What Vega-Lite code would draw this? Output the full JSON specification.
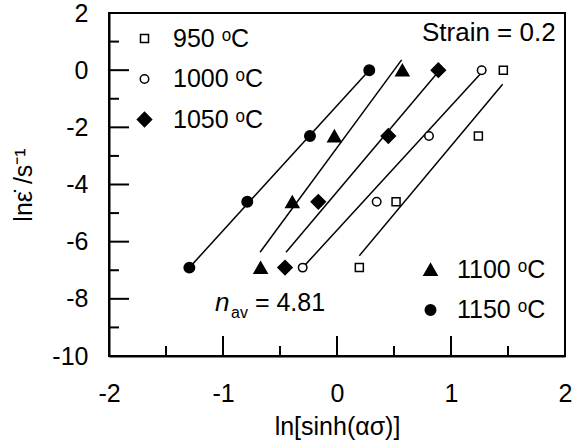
{
  "$schema": "https://vega.github.io/schema/vega-lite/v6.json",
  "width": 456,
  "height": 343,
  "autosize": {"type": "none"},
  "padding": {"left": 109, "top": 13, "right": 8, "bottom": 89},
  "background": "white",
  "config": {
    "font": "Liberation Sans",
    "view": {"stroke": "black", "strokeWidth": 2},
    "axis": {
      "domainColor": "black",
      "domainWidth": 2,
      "ticks": false,
      "labelColor": "black",
      "labelFont": "Liberation Sans",
      "labelFontSize": 25,
      "titleFont": "Liberation Sans",
      "titleFontSize": 25,
      "titleFontWeight": "normal",
      "titleColor": "black",
      "grid": false
    },
    "legend": {
      "title": null,
      "padding": 0,
      "labelFontSize": 25,
      "labelFont": "Liberation Sans",
      "labelColor": "black",
      "symbolStrokeWidth": 1.5
    },
    "tick": {"thickness": 2, "color": "black", "opacity": 1}
  },
  "datasets": {
    "pts": [
      {"T": "950 ᵒC", "x": 0.196, "y": -6.908},
      {"T": "950 ᵒC", "x": 0.518, "y": -4.605},
      {"T": "950 ᵒC", "x": 1.24, "y": -2.303},
      {"T": "950 ᵒC", "x": 1.459, "y": 0},
      {"T": "1000 ᵒC", "x": -0.301, "y": -6.908},
      {"T": "1000 ᵒC", "x": 0.348, "y": -4.605},
      {"T": "1000 ᵒC", "x": 0.807, "y": -2.303},
      {"T": "1000 ᵒC", "x": 1.269, "y": 0},
      {"T": "1050 ᵒC", "x": -0.456, "y": -6.908},
      {"T": "1050 ᵒC", "x": -0.164, "y": -4.605},
      {"T": "1050 ᵒC", "x": 0.45, "y": -2.303},
      {"T": "1050 ᵒC", "x": 0.889, "y": 0},
      {"T": "1100 ᵒC", "x": -0.67, "y": -6.908},
      {"T": "1100 ᵒC", "x": -0.392, "y": -4.605},
      {"T": "1100 ᵒC", "x": -0.023, "y": -2.303},
      {"T": "1100 ᵒC", "x": 0.573, "y": 0},
      {"T": "1150 ᵒC", "x": -1.295, "y": -6.908},
      {"T": "1150 ᵒC", "x": -0.787, "y": -4.605},
      {"T": "1150 ᵒC", "x": -0.237, "y": -2.303},
      {"T": "1150 ᵒC", "x": 0.283, "y": 0}
    ],
    "fits": [
      {"T": "950", "x": 0.196, "y": -6.49},
      {"T": "950", "x": 1.453, "y": -0.49},
      {"T": "1000", "x": -0.301, "y": -6.908},
      {"T": "1000", "x": 1.265, "y": -0.1},
      {"T": "1050", "x": -0.447, "y": -6.37},
      {"T": "1050", "x": 0.88, "y": -0.1},
      {"T": "1100", "x": -0.675, "y": -6.37},
      {"T": "1100", "x": 0.567, "y": 0.36},
      {"T": "1150", "x": -1.295, "y": -6.908},
      {"T": "1150", "x": 0.283, "y": 0}
    ],
    "xticks": [
      {"x": -1, "y": -10, "kind": "major"},
      {"x": 0, "y": -10, "kind": "major"},
      {"x": 1, "y": -10, "kind": "major"},
      {"x": -1.5, "y": -10, "kind": "minor"},
      {"x": -0.5, "y": -10, "kind": "minor"},
      {"x": 0.5, "y": -10, "kind": "minor"},
      {"x": 1.5, "y": -10, "kind": "minor"}
    ],
    "yticks": [
      {"x": -2, "y": -8, "kind": "major"},
      {"x": -2, "y": -6, "kind": "major"},
      {"x": -2, "y": -4, "kind": "major"},
      {"x": -2, "y": -2, "kind": "major"},
      {"x": -2, "y": 0, "kind": "major"},
      {"x": -2, "y": -9, "kind": "minor"},
      {"x": -2, "y": -7, "kind": "minor"},
      {"x": -2, "y": -5, "kind": "minor"},
      {"x": -2, "y": -3, "kind": "minor"},
      {"x": -2, "y": -1, "kind": "minor"},
      {"x": -2, "y": 1, "kind": "minor"}
    ],
    "notes": [
      {"k": "strain", "x": 1.918, "y": 1.02, "text": "Strain = 0.2"},
      {"k": "n", "x": -1.07, "y": -8.43, "text": "n"},
      {"k": "av", "x": -0.93, "y": -8.67, "text": "av"},
      {"k": "eq", "x": -0.72, "y": -8.43, "text": "= 4.81"}
    ]
  },
  "layer": [
    {
      "data": {"name": "fits"},
      "mark": {"type": "line", "color": "black", "strokeWidth": 1.5},
      "encoding": {
        "x": {
          "field": "x", "type": "quantitative",
          "scale": {"domain": [-2, 2], "nice": false, "zero": false},
          "title": "ln[sinh(ασ)]",
          "axis": {
            "orient": "bottom",
            "values": [-2, -1, 0, 1, 2],
            "labelExpr": "'' + datum.value",
            "labelPadding": 25,
            "labelFlush": false,
            "labelOverlap": false,
            "titlePadding": 8
          }
        },
        "y": {
          "field": "y", "type": "quantitative",
          "scale": {"domain": [-10, 2], "nice": false, "zero": false},
          "title": "lnε̇ /s⁻¹",
          "axis": {
            "orient": "left",
            "values": [-10, -8, -6, -4, -2, 0, 2],
            "labelExpr": "'' + datum.value",
            "labelPadding": 21,
            "labelFlush": false,
            "labelOverlap": false,
            "titlePadding": 15
          }
        },
        "detail": {"field": "T", "type": "nominal"}
      }
    },
    {
      "data": {"name": "xticks"},
      "transform": [{"filter": "datum.kind === 'major'"}],
      "mark": {"type": "tick", "orient": "vertical", "size": 20, "yOffset": -10},
      "encoding": {
        "x": {"field": "x", "type": "quantitative", "axis": null},
        "y": {"field": "y", "type": "quantitative", "axis": null}
      }
    },
    {
      "data": {"name": "xticks"},
      "transform": [{"filter": "datum.kind === 'minor'"}],
      "mark": {"type": "tick", "orient": "vertical", "size": 10, "yOffset": -5},
      "encoding": {
        "x": {"field": "x", "type": "quantitative", "axis": null},
        "y": {"field": "y", "type": "quantitative", "axis": null}
      }
    },
    {
      "data": {"name": "yticks"},
      "transform": [{"filter": "datum.kind === 'major'"}],
      "mark": {"type": "tick", "orient": "horizontal", "size": 20, "xOffset": 10},
      "encoding": {
        "x": {"field": "x", "type": "quantitative", "axis": null},
        "y": {"field": "y", "type": "quantitative", "axis": null}
      }
    },
    {
      "data": {"name": "yticks"},
      "transform": [{"filter": "datum.kind === 'minor'"}],
      "mark": {"type": "tick", "orient": "horizontal", "size": 10, "xOffset": 5},
      "encoding": {
        "x": {"field": "x", "type": "quantitative", "axis": null},
        "y": {"field": "y", "type": "quantitative", "axis": null}
      }
    },
    {
      "data": {"name": "pts"},
      "transform": [{"filter": "indexof(['950 ᵒC','1000 ᵒC','1050 ᵒC'], datum.T) >= 0"}],
      "mark": {"type": "point", "filled": true, "strokeWidth": 1.5, "opacity": 1},
      "encoding": {
        "x": {"field": "x", "type": "quantitative", "axis": null},
        "y": {"field": "y", "type": "quantitative", "axis": null},
        "shape": {
          "field": "T", "type": "nominal",
          "scale": {"domain": ["950 ᵒC", "1000 ᵒC", "1050 ᵒC"], "range": ["square", "circle", "diamond"]},
          "legend": {"orient": "none", "legendX": 23, "legendY": 13, "labelOffset": 16, "rowPadding": 14.5}
        },
        "fill": {
          "field": "T", "type": "nominal",
          "scale": {"domain": ["950 ᵒC", "1000 ᵒC", "1050 ᵒC"], "range": ["white", "white", "black"]},
          "legend": {"orient": "none", "legendX": 23, "legendY": 13, "labelOffset": 16, "rowPadding": 14.5}
        },
        "stroke": {
          "field": "T", "type": "nominal",
          "scale": {"domain": ["950 ᵒC", "1000 ᵒC", "1050 ᵒC"], "range": ["black", "black", "black"]},
          "legend": {"orient": "none", "legendX": 23, "legendY": 13, "labelOffset": 16, "rowPadding": 14.5}
        },
        "size": {
          "field": "T", "type": "ordinal",
          "scale": {"type": "ordinal", "domain": ["950 ᵒC", "1000 ᵒC", "1050 ᵒC"], "range": [64, 72, 200]},
          "legend": {"orient": "none", "legendX": 23, "legendY": 13, "labelOffset": 16, "rowPadding": 14.5}
        }
      }
    },
    {
      "data": {"name": "pts"},
      "transform": [{"filter": "indexof(['1100 ᵒC','1150 ᵒC'], datum.T) >= 0"}],
      "mark": {"type": "point", "filled": true, "strokeWidth": 1.5, "opacity": 1},
      "encoding": {
        "x": {"field": "x", "type": "quantitative", "axis": null},
        "y": {"field": "y", "type": "quantitative", "axis": null},
        "shape": {
          "field": "T", "type": "nominal",
          "scale": {"domain": ["1100 ᵒC", "1150 ᵒC"], "range": ["triangle-up", "circle"]},
          "legend": {"orient": "none", "legendX": 309, "legendY": 244, "labelOffset": 14, "rowPadding": 14.5}
        },
        "fill": {
          "field": "T", "type": "nominal",
          "scale": {"domain": ["1100 ᵒC", "1150 ᵒC"], "range": ["black", "black"]},
          "legend": {"orient": "none", "legendX": 309, "legendY": 244, "labelOffset": 14, "rowPadding": 14.5}
        },
        "stroke": {
          "field": "T", "type": "nominal",
          "scale": {"domain": ["1100 ᵒC", "1150 ᵒC"], "range": ["black", "black"]},
          "legend": {"orient": "none", "legendX": 309, "legendY": 244, "labelOffset": 14, "rowPadding": 14.5}
        },
        "size": {
          "field": "T", "type": "ordinal",
          "scale": {"type": "ordinal", "domain": ["1100 ᵒC", "1150 ᵒC"], "range": [170, 110]},
          "legend": {"orient": "none", "legendX": 309, "legendY": 244, "labelOffset": 14, "rowPadding": 14.5}
        }
      }
    },
    {
      "data": {"name": "notes"},
      "transform": [{"filter": "datum.k === 'strain'"}],
      "mark": {"type": "text", "align": "right", "baseline": "alphabetic", "fontSize": 26, "color": "black"},
      "encoding": {
        "x": {"field": "x", "type": "quantitative", "axis": null},
        "y": {"field": "y", "type": "quantitative", "axis": null},
        "text": {"field": "text"}
      }
    },
    {
      "data": {"name": "notes"},
      "transform": [{"filter": "datum.k === 'n'"}],
      "mark": {"type": "text", "align": "left", "baseline": "alphabetic", "fontSize": 26, "fontStyle": "italic", "color": "black"},
      "encoding": {
        "x": {"field": "x", "type": "quantitative", "axis": null},
        "y": {"field": "y", "type": "quantitative", "axis": null},
        "text": {"field": "text"}
      }
    },
    {
      "data": {"name": "notes"},
      "transform": [{"filter": "datum.k === 'av'"}],
      "mark": {"type": "text", "align": "left", "baseline": "alphabetic", "fontSize": 16, "color": "black"},
      "encoding": {
        "x": {"field": "x", "type": "quantitative", "axis": null},
        "y": {"field": "y", "type": "quantitative", "axis": null},
        "text": {"field": "text"}
      }
    },
    {
      "data": {"name": "notes"},
      "transform": [{"filter": "datum.k === 'eq'"}],
      "mark": {"type": "text", "align": "left", "baseline": "alphabetic", "fontSize": 25, "color": "black"},
      "encoding": {
        "x": {"field": "x", "type": "quantitative", "axis": null},
        "y": {"field": "y", "type": "quantitative", "axis": null},
        "text": {"field": "text"}
      }
    }
  ],
  "resolve": {
    "scale": {"shape": "independent", "fill": "independent", "stroke": "independent", "size": "independent"},
    "axis": {"x": "independent", "y": "independent"}
  }
}
